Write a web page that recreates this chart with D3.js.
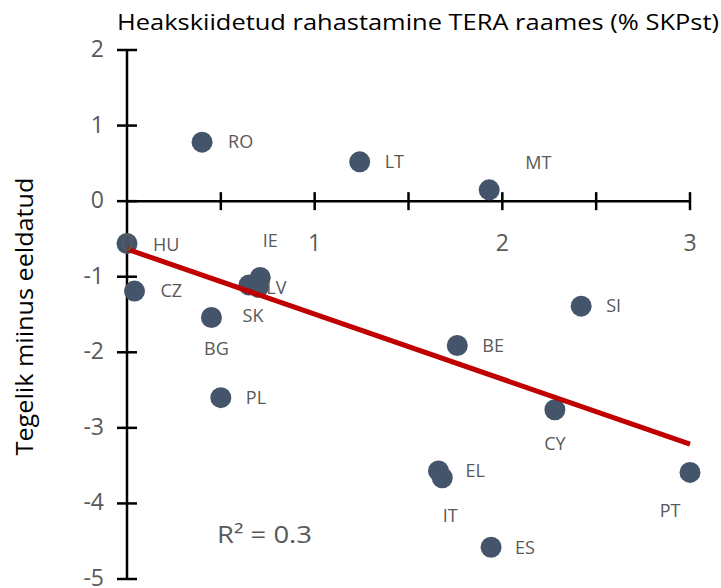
<!DOCTYPE html>
<html>
<head>
<meta charset="utf-8">
<script src="https://cdn.jsdelivr.net/npm/d3@7"></script>
<style>
  body { margin: 0; background: #fff; }
  svg { font-family: "Open Sans", "Noto Sans", sans-serif; }
  .tick-label { fill: #595959; font-size: 23px; }
  .pt-label { fill: #595959; font-size: 18px; }
</style>
</head>
<body>
<div id="chart"></div>
<script>
// Data
const countries = ['RO', 'LT', 'MT', 'HU', 'IE', 'LV', 'SK', 'CZ', 'BG', 'PL', 'BE', 'SI', 'CY', 'EL', 'IT', 'ES', 'PT'];
const funding   = [0.40, 1.24, 1.93, 0.00, 0.71, 0.70, 0.65, 0.04, 0.45, 0.50, 1.76, 2.42, 2.28, 1.66, 1.68, 1.94, 3.00];
const gap       = [0.78, 0.52, 0.15, -0.56, -1.01, -1.14, -1.11, -1.19, -1.54, -2.60, -1.91, -1.39, -2.76, -3.57, -3.66, -4.58, -3.59];
const xTicks = [0, 1, 2, 3];
const yTicks = [2, 1, 0, -1, -2, -3, -4, -5];
const title = 'Heakskiidetud rahastamine TERA raames (% SKPst)';
const yTitle = 'Tegelik miinus eeldatud';
const r2Text = 'R² = 0.3';

// label placement (pixels, relative to the point)
const labelOffset = {
  RO: [26, 0], LT: [25, 0], MT: [36, -27], HU: [26, 1], IE: [10, -37],
  LV: [18, 0], SK: [4, 31], CZ: [26, 0], BG: [5, 31], PL: [25, 0],
  BE: [25, 0], SI: [25, 0], CY: [0, 34], EL: [27, 0], IT: [8, 38],
  ES: [24, 0], PT: [-20, 38]
};

const width = 721, height = 588;
const svg = d3.select('#chart').append('svg')
  .attr('width', width).attr('height', height);

const x = d3.scaleLinear().domain([0, 3]).range([127, 690]);
const y = d3.scaleLinear().domain([-5, 2]).range([579, 50]);

const points = countries.map((c, i) => ({ c, x: funding[i], y: gap[i] }));

// Title
svg.append('text')
  .attr('x', 117).attr('y', 30)
  .attr('fill', '#000').attr('font-size', 22)
  .attr('textLength', 602).attr('lengthAdjust', 'spacingAndGlyphs')
  .text(title);

// Y axis title
svg.append('text')
  .attr('transform', `translate(33, ${y(-1.5) + 2}) rotate(-90)`)
  .attr('text-anchor', 'middle')
  .attr('fill', '#000').attr('font-size', 23)
  .attr('textLength', 278).attr('lengthAdjust', 'spacingAndGlyphs')
  .text(yTitle);

// Axes (crossing at zero)
const axisG = svg.append('g').attr('stroke', '#000').attr('stroke-width', 2.5);
axisG.append('line')
  .attr('x1', x(0)).attr('x2', x(3)).attr('y1', y(0)).attr('y2', y(0));
axisG.append('line')
  .attr('x1', x(0)).attr('x2', x(0)).attr('y1', y(2)).attr('y2', y(-5));
axisG.selectAll('.xt').data(d3.range(0.5, 3.01, 0.5)).join('line')
  .attr('x1', d => x(d)).attr('x2', d => x(d))
  .attr('y1', y(0) - 9).attr('y2', y(0) + 9);
axisG.selectAll('.yt').data(yTicks).join('line')
  .attr('x1', x(0) - 10).attr('x2', x(0) + 10)
  .attr('y1', d => y(d)).attr('y2', d => y(d));

// Trend line (least squares)
const mx = d3.mean(funding), my = d3.mean(gap);
const sxy = d3.sum(funding, (v, i) => (v - mx) * (gap[i] - my));
const sxx = d3.sum(funding, v => (v - mx) ** 2);
const slope = sxy / sxx, intercept = my - slope * mx;

// Points
svg.append('g').selectAll('circle').data(points).join('circle')
  .attr('cx', d => x(d.x)).attr('cy', d => y(d.y))
  .attr('r', 10.5).attr('fill', '#44546A');

svg.append('line')
  .attr('x1', x(0)).attr('y1', y(intercept))
  .attr('x2', x(3)).attr('y2', y(intercept + slope * 3))
  .attr('stroke', '#C00000').attr('stroke-width', 5);

// Point labels
svg.append('g').selectAll('text').data(points).join('text')
  .attr('class', 'pt-label')
  .attr('x', d => x(d.x) + labelOffset[d.c][0])
  .attr('y', d => y(d.y) + labelOffset[d.c][1])
  .attr('dy', '0.35em')
  .attr('text-anchor', d => labelOffset[d.c][0] > 20 ? 'start' : 'middle')
  .text(d => d.c);

// Tick labels
svg.append('g').selectAll('text').data(yTicks).join('text')
  .attr('class', 'tick-label')
  .attr('x', 104).attr('y', d => y(d) - 1).attr('dy', '0.35em')
  .attr('text-anchor', 'end')
  .text(d => d);
svg.append('g').selectAll('text').data(xTicks).join('text')
  .attr('class', 'tick-label')
  .attr('x', d => x(d)).attr('y', y(0) + 50)
  .attr('text-anchor', 'middle')
  .text(d => d);

// R squared
svg.append('text')
  .attr('class', 'tick-label')
  .attr('x', 217).attr('y', 543)
  .attr('font-size', 25)
  .attr('textLength', 95).attr('lengthAdjust', 'spacingAndGlyphs')
  .text(r2Text);
</script>
</body>
</html>
